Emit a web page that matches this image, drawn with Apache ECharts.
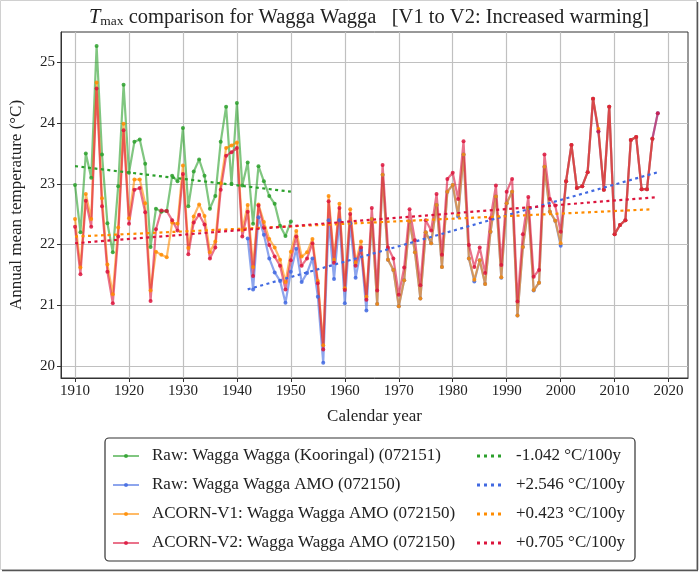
<!DOCTYPE html>
<html><head><meta charset="utf-8">
<script src="https://cdn.jsdelivr.net/npm/echarts@6/dist/echarts.min.js"></script>
<style>html,body{margin:0;padding:0;background:#fff}#c{width:700px;height:573px}</style>
</head><body><div id="c"></div>
<script>
// ---- data ----
const xTicks = [1910, 1920, 1930, 1940, 1950, 1960, 1970, 1980, 1990, 2000, 2010, 2020];
const yTicks = [20, 21, 22, 23, 24, 25];

const greenStart = 1910;
const greenVals = [22.98,22.20,23.50,23.10,25.27,23.48,22.35,21.87,22.96,24.63,
  23.18,23.69,23.73,23.33,21.96,22.59,22.54,22.55,23.13,23.04,
  23.92,22.63,23.20,23.40,23.13,22.59,22.80,23.69,24.27,23.00,
  24.33,22.97,23.35,22.34,23.29,23.04,22.80,22.67,22.31,22.14,22.38];

const blueStart = 1942;
const blueVals = [22.10,21.26,22.45,22.16,21.77,21.54,21.40,21.04,
  21.55,21.93,21.38,21.53,21.77,21.14,20.05,22.40,21.43,22.40,
  21.03,22.35,21.45,21.91,20.91,22.42,21.02,23.15,21.75,21.58,
  20.98,21.41,22.38,21.87,21.11,22.20,22.02,22.65,21.63,22.87,
  22.98,22.46,23.48,21.77,21.39,21.74,21.35,22.21,22.79,21.45,
  22.68,22.87,20.83,21.96,22.60,21.24,21.37,23.28,22.54,22.39,
  21.98,23.04,23.64,22.93,22.96,23.19,24.40,23.86,22.90,24.27,
  22.17,22.32,22.40,23.72,23.77,22.91,22.91,23.74,24.16];

const orangeStart = 1910;
const orangeVals = [22.42,21.62,22.83,22.42,24.67,22.76,21.67,21.18,22.28,23.99,
  22.43,23.07,23.07,22.68,21.24,21.88,21.83,21.79,22.36,22.34,
  23.30,21.94,22.46,22.66,22.47,21.87,22.05,23.01,23.59,23.63,
  23.68,22.24,22.65,21.63,22.66,22.37,22.09,21.95,21.75,21.38,
  21.88,22.22,21.80,21.87,22.09,21.40,20.34,22.80,21.75,22.67,
  21.28,22.58,21.70,22.05,21.14,22.42,21.02,23.15,21.75,21.58,
  20.98,21.41,22.38,21.87,21.11,22.20,22.02,22.65,21.63,22.87,
  22.98,22.49,23.48,21.77,21.42,21.74,21.35,22.21,22.79,21.46,
  22.68,22.87,20.83,21.96,22.60,21.25,21.37,23.28,22.54,22.39,
  22.02,23.04,23.64,22.93,22.96,23.19,24.40,23.90,22.90,24.27,
  22.17,22.32,22.40,23.72,23.77,22.91,22.91,23.74];

const redStart = 1910;
const redVals = [22.29,21.51,22.72,22.29,24.57,22.63,21.55,21.03,22.13,23.88,
  22.34,22.90,22.93,22.53,21.07,22.25,22.56,22.55,22.40,22.23,
  23.16,21.84,22.36,22.49,22.33,21.77,21.95,22.90,23.46,23.52,
  23.59,22.13,22.54,21.48,22.64,22.28,21.99,21.80,21.65,21.26,
  21.74,22.13,21.65,21.77,22.02,21.36,20.27,22.71,21.70,22.60,
  21.25,22.50,21.65,21.95,21.09,22.60,21.24,23.31,21.95,21.77,
  21.17,21.62,22.58,22.07,21.33,22.40,22.23,22.83,21.83,23.08,
  23.18,22.75,23.70,21.99,21.63,21.95,21.53,22.43,22.97,21.66,
  22.87,23.08,21.06,22.17,22.78,21.47,21.58,23.48,22.75,22.64,
  22.21,23.04,23.64,22.93,22.96,23.19,24.40,23.86,22.90,24.27,
  22.17,22.32,22.40,23.72,23.77,22.91,22.91,23.74,24.16];

// trend line end points [year, value]
const greenTrend = [[1910, 23.29], [1950, 22.87]];
const blueTrend = [[1942, 21.26], [2018, 23.19]];
const orangeTrend = [[1910, 22.13], [2017, 22.58]];
const redTrend = [[1910, 22.02], [2018, 22.78]];

const seriesNames = [
  'Raw: Wagga Wagga (Kooringal) (072151)',
  'Raw: Wagga Wagga AMO (072150)',
  'ACORN-V1: Wagga Wagga AMO (072150)',
  'ACORN-V2: Wagga Wagga AMO (072150)'];
const trendNames = ['-1.042 °C/100y', '+2.546 °C/100y', '+0.423 °C/100y', '+0.705 °C/100y'];

// ---- chart ----
const FONT = '"Liberation Serif", "DejaVu Serif", serif';
const colors = ['#2ca02c', '#4169e1', '#ff8c00', '#dc143c'];
function pairs(start, vals) { return vals.map((v, i) => [start + i, v]); }

function dataSeries(name, data, color) {
  return {
    name, type: 'line', data, color,
    symbol: 'circle', symbolSize: 4, showSymbol: true,
    lineStyle: { width: 2.2, opacity: 0.6, color },
    itemStyle: { color, opacity: 0.85 },
    emphasis: { disabled: true }, animation: false
  };
}
function trendSeries(name, data, color) {
  return {
    name, type: 'line', data, color, symbol: 'none', z: 5,
    lineStyle: { width: 2.2, type: [3, 3.5], color },
    emphasis: { disabled: true }, animation: false
  };
}
const dotIcon = 'path://M0,0h3v3h-3z M7,0h3v3h-3z M14,0h3v3h-3z M21,0h3v3h-3z';

const chart = echarts.init(document.getElementById('c'), null, { renderer: 'canvas' });
chart.setOption({
  backgroundColor: '#fff',
  animation: false,
  title: {
    text: '{it|T}{sub|max} comparison for Wagga Wagga   [V1 to V2: Increased warming]',
    left: 364, top: 2, textAlign: 'center',
    textStyle: {
      fontFamily: FONT, fontSize: 20.5, fontWeight: 'normal', color: '#222',
      rich: {
        it: { fontFamily: FONT, fontSize: 20.5, fontStyle: 'italic', color: '#222' },
        sub: { fontFamily: FONT, fontSize: 13.5, color: '#222', verticalAlign: 'bottom', padding: [7, 0, 0, 0] }
      }
    }
  },
  grid: { left: 59, top: 32, right: 12, bottom: 195, show: true, borderColor: '#333', borderWidth: 1 },
  xAxis: {
    type: 'value', min: 1907.4, max: 2023.6,
    name: 'Calendar year', nameLocation: 'middle', nameGap: 30,
    nameTextStyle: { fontFamily: FONT, fontSize: 17, color: '#222' },
    axisLine: { show: true, lineStyle: { color: '#333', width: 1 } },
    axisTick: { show: true, length: 4, customValues: xTicks, lineStyle: { color: '#333' } },
    axisLabel: { customValues: xTicks, formatter: v => String(Math.round(v)), fontFamily: FONT, fontSize: 15, color: '#222', margin: 6 },
    splitLine: { show: true, lineStyle: { color: '#c0c0c0', width: 1.2 } }
  },
  yAxis: {
    type: 'value', min: 19.8, max: 25.5,
    name: 'Annual mean temperature (°C)', nameLocation: 'middle', nameGap: 36,
    nameTextStyle: { fontFamily: FONT, fontSize: 17, color: '#222' },
    axisLine: { show: true, lineStyle: { color: '#333', width: 1 } },
    axisTick: { show: true, length: 4, customValues: yTicks, lineStyle: { color: '#333' } },
    axisLabel: { customValues: yTicks, formatter: v => String(Math.round(v)), fontFamily: FONT, fontSize: 15, color: '#222', margin: 6 },
    splitLine: { show: true, lineStyle: { color: '#c0c0c0', width: 1.2 } }
  },
  legend: [
    {
      data: seriesNames, orient: 'vertical', left: 112, top: 446, padding: 0,
      itemWidth: 26, itemHeight: 5, itemGap: 9,
      textStyle: { fontFamily: FONT, fontSize: 17, color: '#222', lineHeight: 20, padding: [0, 0, 0, 8] },
      selectedMode: false
    },
    {
      data: trendNames.map(n => ({ name: n, icon: dotIcon })), orient: 'vertical', left: 477, top: 446, padding: 0,
      itemWidth: 24, itemHeight: 3, itemGap: 9,
      textStyle: { fontFamily: FONT, fontSize: 17, color: '#222', lineHeight: 20, padding: [0, 0, 0, 10] },
      selectedMode: false
    }
  ],
  graphic: [
    { type: 'rect', shape: { x: 105, y: 438, width: 530, height: 123, r: 4 }, z: -1,
      style: { fill: '#fff', stroke: '#333', lineWidth: 1.2 } },
    { type: 'rect', shape: { x: 0.5, y: 0.5, width: 696, height: 569 }, z: -2, silent: true,
      style: { fill: 'none', stroke: '#d0d0d0', lineWidth: 1 } },
    { type: 'line', shape: { x1: 697.5, y1: 2, x2: 697.5, y2: 570 }, style: { stroke: '#555', lineWidth: 1.5 } },
    { type: 'line', shape: { x1: 2, y1: 570.5, x2: 698, y2: 570.5 }, style: { stroke: '#555', lineWidth: 1.5 } }
  ],
  series: [
    dataSeries(seriesNames[0], pairs(greenStart, greenVals), colors[0]),
    dataSeries(seriesNames[1], pairs(blueStart, blueVals), colors[1]),
    dataSeries(seriesNames[2], pairs(orangeStart, orangeVals), colors[2]),
    dataSeries(seriesNames[3], pairs(redStart, redVals), colors[3]),
    trendSeries(trendNames[0], greenTrend, colors[0]),
    trendSeries(trendNames[1], blueTrend, colors[1]),
    trendSeries(trendNames[2], orangeTrend, colors[2]),
    trendSeries(trendNames[3], redTrend, colors[3])
  ]
});
</script></body></html>
